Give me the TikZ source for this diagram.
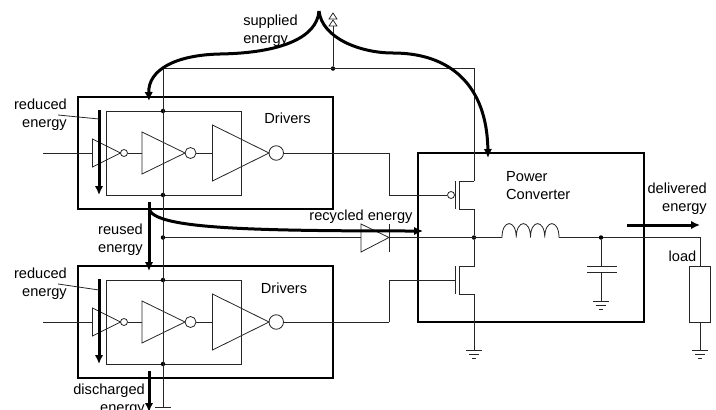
\documentclass[tikz,border=0pt]{standalone}
\usepackage{fontspec}
\setmainfont{Liberation Sans}
\usepackage{tikz}
\usetikzlibrary{arrows.meta}

\tikzset{gnd/.pic={
  \draw[wire] (-8,0) -- (8,0);
  \draw[wire] (-5,4) -- (5,4);
  \draw[wire] (-2,8) -- (2,8);
}}

% one inverter: name, x, y, half height, length, bubble size
\newcommand{\invgate}[6]{
  \draw[wire] (#2,#3-#4) -- (#2,#3+#4) -- (#2+#5,#3) -- cycle;
  \coordinate (#1in) at (#2,#3);
  \node[bubble, minimum size=#6] (#1out) at (#2+#5+#6/2,#3) {};
}

\begin{document}
\begin{tikzpicture}[x=1pt,y=-1pt]

\tikzstyle{every node}=[font=\fontsize{14.6}{18}\selectfont, inner sep=0]
\tikzstyle{wire}=[line width=0.8, black!85]
\tikzstyle{box}=[line width=1.5, black]
\tikzstyle{bubble}=[circle, draw, line width=0.8, black!85]
\tikzstyle{dot}=[circle, fill=black, minimum size=4.5]
\tikzstyle{flow}=[line width=3, -{Latex[length=9,width=8.5]}]

\useasboundingbox (0,0) rectangle (716,410);

% nodes %
\node[dot] (vddtap) at (333,68.5) {};
\node[dot] (midtap) at (163,237.5) {};
\node[dot] (sw) at (474,237.5) {};
\node[dot] (capt) at (601,237.5) {};

\coordinate (railb) at (163,68.5);
\coordinate (railr) at (474,68.5);
\coordinate (vddtop) at (333,26);
\coordinate (gndm) at (163,407);
\coordinate (gndn) at (474,350);
\coordinate (gndl) at (700,350);
\coordinate (gndc) at (601,301);

% driver rows
\foreach \r/\y/\t in {a/153/97, b/322/266}{
  \draw[box] (78,\t) rectangle (333,\t+112);
  \draw[wire] (106.5,\t+14) rectangle (241,\t+98);
  \node[dot] (\r top) at (163,\t+14) {};
  \node[dot] (\r bot) at (163,\t+98) {};
  \invgate{\r one}{92.5}{\y}{14}{28}{7}
  \invgate{\r two}{142}{\y}{21}{43}{11}
  \invgate{\r three}{212.5}{\y}{28}{56.5}{14.5}
  \coordinate (\r src) at (43,\y);
  \coordinate (\r turn) at (389,\y);
  \draw[wire] (\r src) -- (\r onein);
  \draw[wire] (\r oneout) -- (\r twoin);
  \draw[wire] (\r twoout) -- (\r threein);
  \draw[wire] (\r threeout) -- (\r turn);
}

\draw[box] (418,153) rectangle (644,322);

% pmos
\node[bubble, minimum size=7] (pgate) at (451,195) {};
\draw[wire] (455,181) -- (455,209);
\coordinate (pg) at (389,195);
\draw[wire] (aturn) -- (pg) -- (pgate);
\draw[wire] (459,181) -- (459,209);
\coordinate (ps) at (474,181);
\coordinate (pd) at (474,209);
\draw[wire] (459,181) -- (ps);
\draw[wire] (459,209) -- (pd) -- (sw);

% nmos
\coordinate (nd) at (474,266);
\coordinate (ns) at (474,294);
\coordinate (ng) at (389,280);
\coordinate (nbar) at (455,280);
\draw[wire] (455,266) -- (455,294);
\draw[wire] (459,266) -- (459,294);
\draw[wire] (bturn) -- (ng) -- (nbar);
\draw[wire] (sw) -- (nd) -- (459,266);
\draw[wire] (459,294) -- (ns) -- (gndn);
\pic at (gndn) {gnd};

% diode
\coordinate (dioa) at (361,237.5);
\coordinate (dioc) at (389,237.5);
\draw[wire] (361,224) -- (361,252) -- (dioc) -- cycle;
\draw[wire] (389,224) -- (389,252);

% inductor
\coordinate (inda) at (502,237.5);
\coordinate (indb) at (559,237.5);
\draw[wire] (inda) \foreach \i in {0,1,2,3}{
  .. controls (502+14.25*\i,219) and (516.25+14.25*\i,219) .. (516.25+14.25*\i,237.5)};

% capacitor
\coordinate (capu) at (601,266);
\coordinate (capl) at (601,272.5);
\draw[wire] (587,266) -- (617,266);
\draw[wire] (587,272.5) -- (617,272.5);
\draw[wire] (capt) -- (capu);
\draw[wire] (capl) -- (gndc);
\pic at (gndc) {gnd};

% load
\node[draw, line width=0.8, black!85, minimum width=21.5, minimum height=56] (load) at (700,294) {};
\coordinate (loadt) at (700,237.5);
\draw[wire] (capt) -- (loadt) -- (load);
\draw[wire] (load) -- (gndl);
\pic at (gndl) {gnd};

% edges %
\draw[wire] (railb) -- (railr) -- (ps);
\draw[wire] (railb) -- (gndm);
\pic at (gndm) {gnd};
\draw[wire] (vddtap) -- (vddtop);
\draw[wire, line width=0.7] (329,19) -- (337,19) -- (333,13) -- cycle;
\draw[wire, line width=0.7] (329,26) -- (337,26) -- (333,20) -- cycle;
\draw[wire] (midtap) -- (dioa);
\draw[wire] (dioc) -- (inda);
\draw[wire] (indb) -- (capt);

% energy flows
\coordinate (supply) at (319,11);
\coordinate (branch) at (149,209);
\draw[flow] (supply) .. controls (317,38) and (280,53) .. (220,54)
  .. controls (175,55) and (148,70) .. (149,101);
\draw[flow] (supply) .. controls (322,38) and (360,53) .. (393,53)
  .. controls (450,53) and (487,85) .. (488,158);
\draw[flow] (149,202) -- (149,271);
\draw[flow] (branch) .. controls (155,228) and (240,231) .. (423,231);
\draw[flow] (149,371) -- (149,412);
\draw[flow] (99,110) -- (99,195);
\draw[flow] (99,279) -- (99,364);
\draw[flow] (627,225) -- (700,225);

% labels
\node[align=left] (suplab) at (270.5,31) {supplied\\energy};
\node[align=right, anchor=east] (redlaba) at (67,114.5) {reduced\\energy};
\node[align=right, anchor=east] (redlabb) at (67,283.5) {reduced\\energy};
\node (drvlaba) at (287.5,118) {Drivers};
\node (drvlabb) at (284,288) {Drivers};
\node[align=left, anchor=west] (pwrlab) at (506,185.5) {Power\\Converter};
\node[align=right, anchor=east] (dellab) at (707,199) {delivered\\energy};
\node (reclab) at (361,217) {recycled energy};
\node[align=right, anchor=east] (reulab) at (143,239.5) {reused\\energy};
\node (loadlab) at (682.5,256) {load};
\node[align=right, anchor=east] (dislab) at (145,400) {discharged\\energy};

\draw[wire] (58,115) -- (99,119);
\draw[wire] (58,284) -- (99,290);

\end{tikzpicture}
\end{document}
